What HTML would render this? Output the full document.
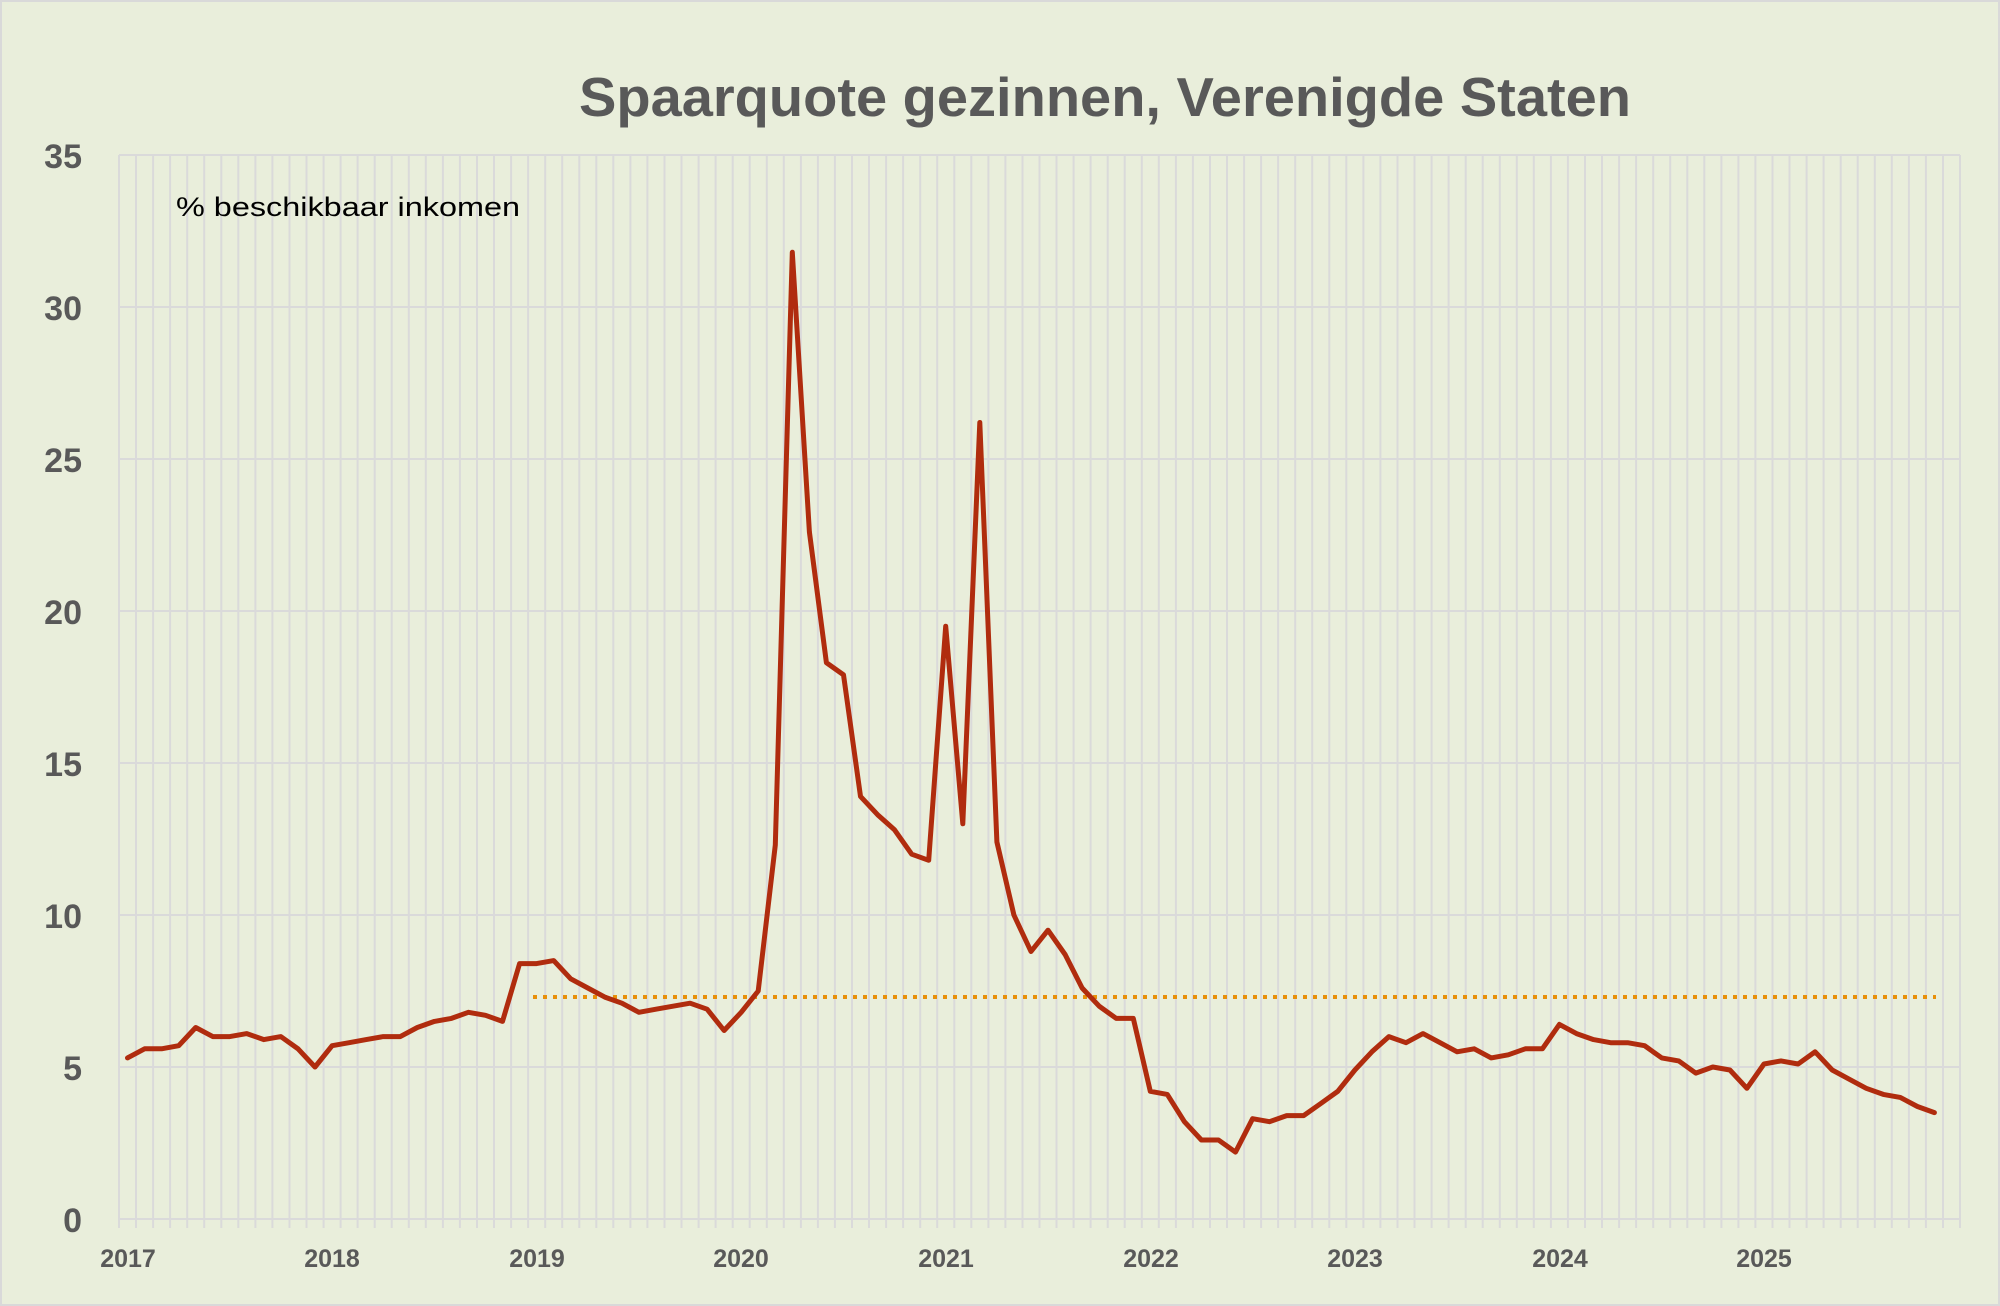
<!DOCTYPE html>
<html><head><meta charset="utf-8"><style>
html,body{margin:0;padding:0;background:#e9eedb;}
svg{display:block;}
text{font-family:"Liberation Sans",sans-serif;}
</style></head><body>
<svg id="s" width="2000" height="1306" viewBox="0 0 2000 1306" xmlns="http://www.w3.org/2000/svg">
<rect x="0" y="0" width="2000" height="1306" fill="#e9eedb"/>
<rect x="1" y="1" width="1998" height="1304" fill="none" stroke="#d9d9d9" stroke-width="2"/>
<g id="grid"></g>
<text x="1105" y="116" text-anchor="middle" font-size="55" font-weight="bold" fill="#595959" textLength="1052" lengthAdjust="spacingAndGlyphs">Spaarquote gezinnen, Verenigde Staten</text>
<text x="176" y="216" font-size="27" fill="#000" textLength="344" lengthAdjust="spacingAndGlyphs">% beschikbaar inkomen</text>
<g font-size="34" font-weight="bold" fill="#595959" text-anchor="end">
<text x="82" y="168">35</text>
<text x="82" y="320">30</text>
<text x="82" y="472">25</text>
<text x="82" y="624">20</text>
<text x="82" y="776">15</text>
<text x="82" y="928">10</text>
<text x="82" y="1080">5</text>
<text x="82" y="1232">0</text>
</g>
<g font-size="25" font-weight="bold" fill="#595959" text-anchor="middle">
<text x="128" y="1267">2017</text>
<text x="332" y="1267">2018</text>
<text x="537" y="1267">2019</text>
<text x="741" y="1267">2020</text>
<text x="946" y="1267">2021</text>
<text x="1151" y="1267">2022</text>
<text x="1355" y="1267">2023</text>
<text x="1560" y="1267">2024</text>
<text x="1764" y="1267">2025</text>
</g>
<line x1="533" y1="997" x2="1936" y2="997" stroke="#e8900a" stroke-width="4" stroke-dasharray="4,6"/>
<polyline id="ln" fill="none" stroke="#b02c0e" stroke-width="5" stroke-linejoin="round" stroke-linecap="round" points=""/>
</svg>
<script>
var L=119,R=1960,T=155,B=1219,W=(R-L)/108,ppu=(B-T)/35;
var g=document.getElementById('grid'),h='';
for(var i=0;i<=108;i++){var x=(L+i*W).toFixed(1);h+='<line x1="'+x+'" y1="'+T+'" x2="'+x+'" y2="'+(B+9)+'" stroke="#dadada" stroke-width="2"/>';}
for(var v=0;v<=35;v+=5){var y=(B-v*ppu).toFixed(1);h+='<line x1="'+L+'" y1="'+y+'" x2="'+R+'" y2="'+y+'" stroke="#dadada" stroke-width="2"/>';}
g.innerHTML=h;
var d=[5.3,5.6,5.6,5.7,6.3,6.0,6.0,6.1,5.9,6.0,5.6,5.0,
5.7,5.8,5.9,6.0,6.0,6.3,6.5,6.6,6.8,6.7,6.5,8.4,
8.4,8.5,7.9,7.6,7.3,7.1,6.8,6.9,7.0,7.1,6.9,6.2,
6.8,7.5,12.3,31.8,22.6,18.3,17.9,13.9,13.3,12.8,12.0,11.8,
19.5,13.0,26.2,12.4,10.0,8.8,9.5,8.7,7.6,7.0,6.6,6.6,
4.2,4.1,3.2,2.6,2.6,2.2,3.3,3.2,3.4,3.4,3.8,4.2,
4.9,5.5,6.0,5.8,6.1,5.8,5.5,5.6,5.3,5.4,5.6,5.6,
6.4,6.1,5.9,5.8,5.8,5.7,5.3,5.2,4.8,5.0,4.9,4.3,
5.1,5.2,5.1,5.5,4.9,4.6,4.3,4.1,4.0,3.7,3.5];
var p=d.map(function(v,i){return (L+(i+0.5)*W).toFixed(1)+','+(B-v*ppu).toFixed(1);}).join(' ');
document.getElementById('ln').setAttribute('points',p);
</script>
</body></html>
